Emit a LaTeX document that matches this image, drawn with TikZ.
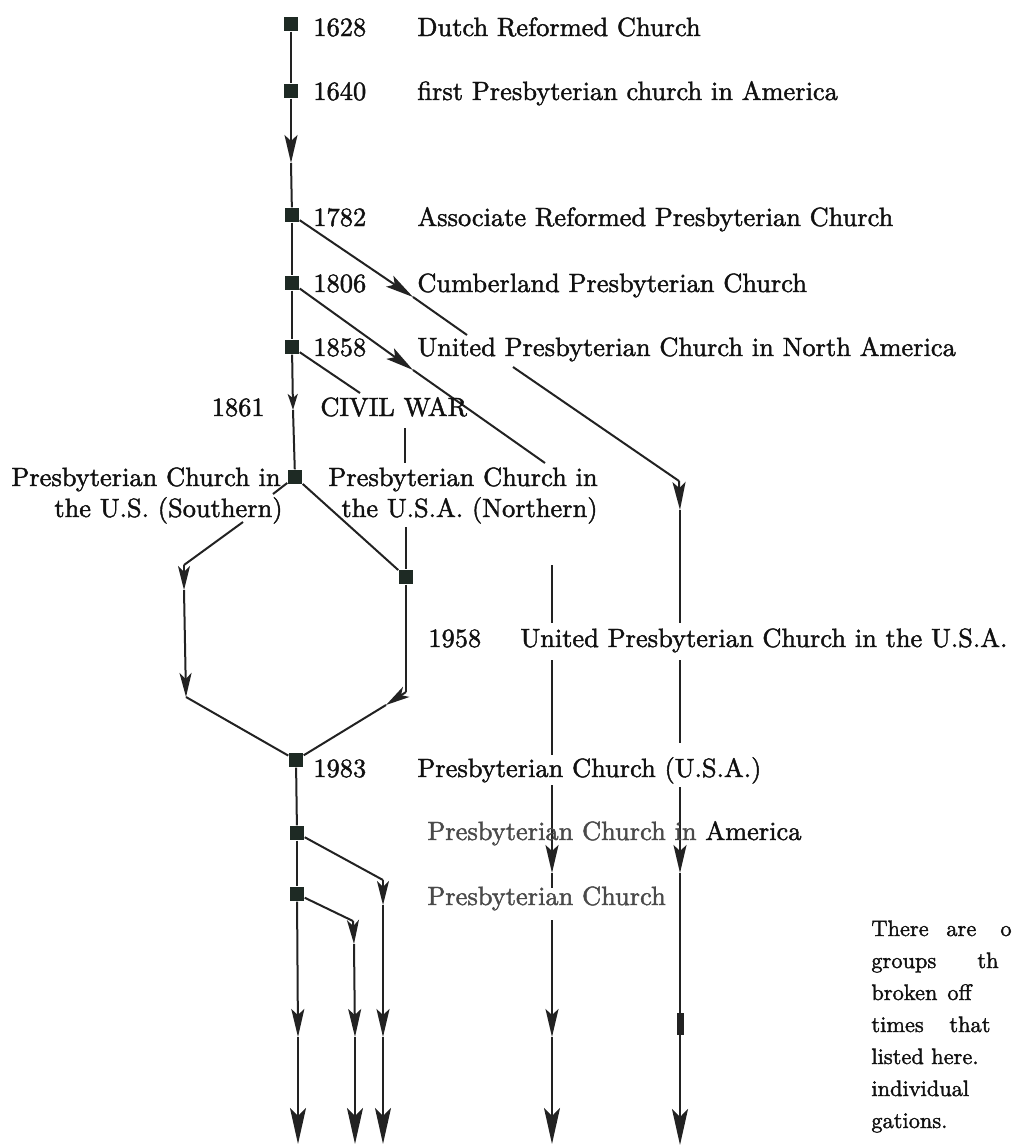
\documentclass[tikz,border=0pt]{standalone}
\usepackage{fontspec}
\setmainfont{lmroman10-regular.otf}[RawFeature={embolden=1.6}]
\usetikzlibrary{arrows.meta}
\definecolor{sqc}{HTML}{1E2A24}
\definecolor{lnc}{HTML}{222222}
\definecolor{txc}{HTML}{111111}
\definecolor{gtx}{HTML}{4A4A4A}
\begin{document}
\begin{tikzpicture}[x=0.5pt,y=-0.5pt,
  ln/.style={line width=1pt, draw=lnc},
  midarr/.style={ln,-{Stealth[length=14pt,width=6.5pt,inset=3pt]}},
  cornarr/.style={ln,-{Stealth[length=12pt,width=6pt,inset=3pt]}},
  endarr/.style={ln,-{Stealth[length=18pt,width=8pt,inset=4pt]}},
  smallarr/.style={ln,-{Stealth[length=8pt,width=5pt,inset=2pt]}},
  sq/.style={fill=sqc, minimum size=7.3pt, inner sep=0pt, draw=none},
  lbl/.style={font=\fontsize{13.2}{16}\selectfont, anchor=base west, inner sep=0pt, text=txc},
  lblr/.style={lbl, anchor=base east},
  para/.style={font=\fontsize{11.2}{16}\selectfont, anchor=base west, inner sep=0pt, text=txc}
]
\useasboundingbox (0,0) rectangle (1016,1146);

% squares
\node[sq] (s1628) at (291,24) {};
\node[sq] (s1640) at (291,91) {};
\node[sq] (s1782) at (292,215) {};
\node[sq] (s1806) at (292,283) {};
\node[sq] (s1858) at (292,347) {};
\node[sq] (s1861) at (295,477) {};
\node[sq] (sN) at (406,577) {};
\node[sq] (s1983) at (296,760) {};
\node[sq] (sA) at (297,833) {};
\node[sq] (sB) at (297,894) {};

% coordinates
\coordinate (a1) at (291,163);
\coordinate (a2) at (293,410);
\coordinate (b1) at (413,297);
\coordinate (b2) at (467,335);
\coordinate (b3) at (513,367);
\coordinate (b4) at (679,481);
\coordinate (b5) at (680,510);
\coordinate (c1) at (413,370);
\coordinate (c2) at (545,463);
\coordinate (d1) at (360,393);
\coordinate (d2) at (405,428);
\coordinate (d3) at (405,463);
\coordinate (d4) at (406,527);
\coordinate (h1) at (273,494);
\coordinate (h2) at (243,522);
\coordinate (UL) at (184,565);
\coordinate (ULt) at (184,590);
\coordinate (LL) at (186,697);
\coordinate (LR) at (406,692);
\coordinate (LRt) at (386,705);
\coordinate (e1) at (383,880);
\coordinate (e2) at (383,905);
\coordinate (e3) at (383,1037);
\coordinate (e4) at (383,1144);
\coordinate (f1) at (353,921);
\coordinate (f2) at (354,944);
\coordinate (f3) at (355,1037);
\coordinate (f4) at (355,1144);
\coordinate (m1) at (298,1037);
\coordinate (m2) at (298,1144);

% main column
\draw[ln] (s1628) -- (s1640);
\draw[midarr] (s1640) -- (a1);
\draw[ln] (a1) -- (s1782);
\draw[ln] (s1782) -- (s1806);
\draw[ln] (s1806) -- (s1858);
\draw[smallarr] (s1858) -- (a2);
\draw[ln] (a2) -- (s1861);

% 1782 branch to right column
\draw[midarr] (s1782) -- (b1);
\draw[ln] (b1) -- (b2);
\draw[ln] (b3) -- (b4);
\draw[midarr] (b4) -- (b5);
\coordinate (r1) at (680,623);
\coordinate (r2) at (680,660);
\coordinate (r3) at (680,743);
\coordinate (r4) at (680,787);
\coordinate (r5) at (680,822);
\coordinate (r6) at (680,873);
\coordinate (r7) at (680,1013);
\coordinate (r8) at (680,1035);
\coordinate (r9) at (680,1145);
\draw[ln] (b5) -- (r1);
\draw[ln] (r2) -- (r3);
\draw[ln] (r4) -- (r5);
\draw[midarr] (r5) -- (r6);
\draw[ln] (r6) -- (r7);
\draw[line width=3.5pt, draw=lnc] (r7) -- (r8);
\draw[endarr] (r8) -- (r9);

% 1806 branch
\draw[midarr] (s1806) -- (c1);
\draw[ln] (c1) -- (c2);
\coordinate (q1) at (552,565);
\coordinate (q2) at (552,623);
\coordinate (q3) at (552,660);
\coordinate (q4) at (552,755);
\coordinate (q5) at (552,785);
\coordinate (q6) at (552,822);
\coordinate (q7) at (552,873);
\coordinate (q8) at (552,888);
\coordinate (q9) at (552,920);
\coordinate (q10) at (552,1037);
\coordinate (q11) at (552,1144);
\draw[ln] (q1) -- (q2);
\draw[ln] (q3) -- (q4);
\draw[ln] (q5) -- (q6);
\draw[midarr] (q6) -- (q7);
\draw[ln] (q7) -- (q8);
\draw[midarr] (q9) -- (q10);
\draw[endarr] (q10) -- (q11);

% 1858 branch
\draw[ln] (s1858) -- (d1);
\draw[ln] (d2) -- (d3);
\draw[ln] (d4) -- (sN);

% hexagon
\draw[ln] (s1861) -- (h1);
\draw[ln] (h2) -- (UL);
\draw[cornarr] (UL) -- (ULt);
\draw[cornarr] (ULt) -- (LL);
\draw[ln] (LL) -- (s1983);
\draw[ln] (s1861) -- (sN);
\draw[ln] (sN) -- (LR);
\draw[cornarr] (LR) -- (LRt);
\draw[ln] (LRt) -- (s1983);

% bottom
\draw[ln] (s1983) -- (sA);
\draw[ln] (sA) -- (sB);
\draw[midarr] (sB) -- (m1);
\draw[endarr] (m1) -- (m2);
\draw[ln] (sA) -- (e1);
\draw[cornarr] (e1) -- (e2);
\draw[midarr] (e2) -- (e3);
\draw[endarr] (e3) -- (e4);
\draw[ln] (sB) -- (f1);
\draw[cornarr] (f1) -- (f2);
\draw[midarr] (f2) -- (f3);
\draw[endarr] (f3) -- (f4);

% labels
\node[lbl] (y1628) at (313,36) {1628};
\node[lbl] (t1628) at (417,36) {Dutch Reformed Church};
\node[lbl] (y1640) at (313,100) {1640};
\node[lbl] (t1640) at (417,100) {first Presbyterian church in America};
\node[lbl] (y1782) at (313,226) {1782};
\node[lbl] (t1782) at (417,226) {Associate Reformed Presbyterian Church};
\node[lbl] (y1806) at (313,292) {1806};
\node[lbl] (t1806) at (417,292) {Cumberland Presbyterian Church};
\node[lbl] (y1858) at (313,356) {1858};
\node[lbl] (t1858) at (417,356) {United Presbyterian Church in North America};
\node[lblr] (y1861) at (265,416) {1861};
\node[lbl] (t1861) at (320,416) {CIVIL WAR};
\node[lblr] (south1) at (281,486) {Presbyterian Church in};
\node[lblr] (south2) at (283,517) {the U.S. (Southern)};
\node[lblr] (north1) at (598,486) {Presbyterian Church in};
\node[lblr] (north2) at (598,517) {the U.S.A. (Northern)};
\node[lbl] (y1958) at (428,647) {1958};
\node[lbl] (t1958) at (520,647) {United Presbyterian Church in the U.S.A.};
\node[lbl] (y1983) at (313,777) {1983};
\node[lbl] (t1983) at (417,777) {Presbyterian Church (U.S.A.)};
\node[lbl] (tPCA) at (427,840) {\textcolor{gtx}{Presbyterian Church in} America};
\node[lbl, text=gtx] (tPC) at (427,905) {Presbyterian Church};

% note (cut at the right edge)
\node[para] (n1a) at (871,936) {There};
\node[para] (n1b) at (946,936) {are};
\node[para] (n1c) at (1000,936) {o};
\node[para] (n2a) at (871,968) {groups};
\node[para] (n2b) at (977,968) {th};
\node[para] (n3a) at (871,1000) {broken};
\node[para] (n3b) at (947,1000) {off};
\node[para] (n4a) at (871,1032) {times};
\node[para] (n4b) at (949,1032) {that};
\node[para] (n5) at (871,1064) {listed here.};
\node[para] (n6) at (871,1096) {individual};
\node[para] (n7) at (871,1128) {gations.};
\end{tikzpicture}
\end{document}
